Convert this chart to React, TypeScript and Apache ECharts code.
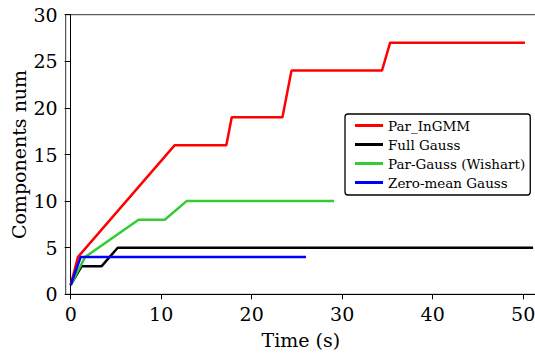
import React, { useEffect, useRef } from "react";
import * as echarts from "echarts";

const seriesNames = ["Par_InGMM", "Full Gauss", "Par-Gauss (Wishart)", "Zero-mean Gauss"];
const seriesColors = ["#ff0000", "#000000", "#33cc33", "#0000ff"];

const redTime = [0, 0.8, 11.5, 17.2, 17.8, 23.4, 24.4, 34.4, 35.3, 50.2];
const redValues = [1, 4, 16, 16, 19, 19, 24, 24, 27, 27];

const blackTime = [0, 1.2, 3.4, 5.2, 51.1];
const blackValues = [1, 3, 3, 5, 5];

const greenTime = [0, 1.6, 7.5, 10.4, 12.8, 29.1];
const greenValues = [1, 4, 8, 8, 10, 10];

const blueTime = [0, 1.1, 26.0];
const blueValues = [1, 4, 4];

const xTicks = [0, 10, 20, 30, 40, 50];

const FONT = "DejaVu Serif";

function pairs(t: number[], v: number[]) {
  return t.map((x, i) => [x, v[i]]);
}

export default function App() {
  const ref = useRef<HTMLDivElement>(null);
  useEffect(() => {
    if (!ref.current) return;
    const chart = echarts.init(ref.current, undefined, { renderer: "svg" });
    const datas = [
      pairs(redTime, redValues),
      pairs(blackTime, blackValues),
      pairs(greenTime, greenValues),
      pairs(blueTime, blueValues),
    ];
    chart.setOption({
      animation: false,
      backgroundColor: "#ffffff",
      grid: {
        left: 65.7,
        top: 14.7,
        right: -1,
        bottom: 59.7,
        outerBoundsMode: "none",
        containLabel: false,
        show: true,
        borderColor: "#333333",
        borderWidth: 1,
        backgroundColor: "transparent",
      },
      legend: {
        orient: "vertical",
        left: 345,
        top: 114,
        padding: [2, 5, 3, 10],
        itemGap: 0,
        itemWidth: 28,
        itemHeight: 3,
        icon: "rect",
        borderColor: "#000000",
        borderWidth: 1.3,
        borderRadius: 3,
        textStyle: { fontFamily: FONT, fontSize: 13.5, color: "#000", lineHeight: 19 },
        data: seriesNames,
      },
      xAxis: {
        type: "value",
        min: -0.55,
        max: 51.42,
        name: "Time (s)",
        nameLocation: "middle",
        nameGap: 36,
        nameMoveOverlap: false,
        nameTextStyle: { fontFamily: FONT, fontSize: 19, color: "#000" },
        axisLine: { lineStyle: { color: "#000", width: 1 } },
        axisTick: { show: true, length: 5, customValues: xTicks, lineStyle: { color: "#000" } },
        axisLabel: {
          customValues: xTicks,
          fontFamily: FONT,
          fontSize: 19,
          color: "#000",
          margin: 10,
        },
        splitLine: { show: false },
      },
      yAxis: {
        type: "value",
        min: 0,
        max: 30,
        interval: 5,
        name: "Components num",
        nameLocation: "middle",
        nameGap: 37,
        nameMoveOverlap: false,
        nameTextStyle: { fontFamily: FONT, fontSize: 19, color: "#000" },
        axisLine: { show: true, lineStyle: { color: "#000", width: 1 } },
        axisTick: { show: true, length: 6, lineStyle: { color: "#000" } },
        axisLabel: { fontFamily: FONT, fontSize: 19, color: "#000", margin: 8 },
        splitLine: { show: false },
      },
      series: datas.map((d, i) => ({
        name: seriesNames[i],
        type: "line",
        data: d,
        showSymbol: false,
        symbol: "none",
        color: seriesColors[i],
        lineStyle: { width: 2.5, color: seriesColors[i] },
        z: 2 + i,
      })),
    });
    return () => chart.dispose();
  }, []);
  return (
    <div
      ref={ref}
      style={{ position: "absolute", left: 0, top: 0, width: 535, height: 354 }}
    />
  );
}
